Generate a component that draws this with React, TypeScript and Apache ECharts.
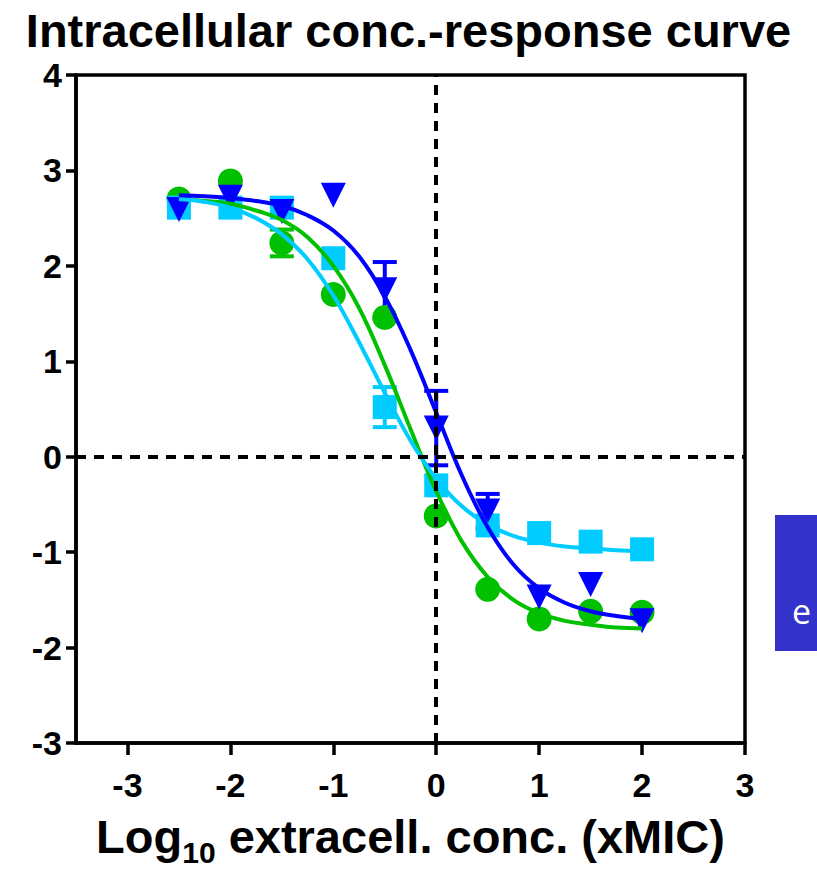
import React, { useEffect, useRef } from "react";
import * as echarts from "echarts";

const FONT = "'Liberation Sans', Arial, sans-serif";

const pointX = [-2.5, -2, -1.5, -1, -0.5, 0, 0.5, 1, 1.5, 2];
const greenVals = [2.7, 2.89, 2.24, 1.7, 1.46, -0.62, -1.39, -1.7, -1.62, -1.63];
const greenErr = [0, 0, 0.14, 0, 0, 0, 0, 0, 0, 0];
const cyanVals = [2.61, 2.61, 2.61, 2.08, 0.52, -0.3, -0.72, -0.8, -0.89, -0.97];
const cyanErr = [0, 0, 0, 0, 0.21, 0, 0, 0, 0, 0];
const blueVals = [2.59, 2.72, 2.57, 2.74, 1.75, 0.3, -0.57, -1.47, -1.34, -1.72];
const blueErr = [0, 0, 0, 0, 0.29, 0.39, 0.18, 0, 0, 0];

const curveX = [-2.5, -2.25, -2, -1.75, -1.5, -1.25, -1, -0.75, -0.5, -0.25, 0, 0.25, 0.5, 0.75, 1, 1.25, 1.5, 1.75, 2];
const greenCurve = [2.7, 2.68, 2.65, 2.58, 2.48, 2.3, 2.0, 1.56, 0.96, 0.29, -0.36, -0.89, -1.26, -1.5, -1.64, -1.72, -1.76, -1.79, -1.8];
const cyanCurve = [2.7, 2.67, 2.61, 2.5, 2.33, 2.07, 1.69, 1.2, 0.67, 0.17, -0.23, -0.52, -0.71, -0.83, -0.9, -0.94, -0.96, -0.98, -0.99];
const blueCurve = [2.74, 2.73, 2.71, 2.68, 2.63, 2.53, 2.37, 2.1, 1.68, 1.12, 0.46, -0.2, -0.74, -1.13, -1.38, -1.53, -1.62, -1.67, -1.7];

const xTicks = [-3, -2, -1, 0, 1, 2, 3];

const GREEN = "#00C000";
const CYAN = "#00CCFF";
const BLUE = "#0000FF";

function errSeries(vals: number[], errs: number[], color: string) {
  return {
    type: "custom",
    silent: true,
    data: pointX.map((x, i) => [x, vals[i], errs[i]]).filter((d) => d[2] > 0),
    renderItem: (params: any, api: any) => {
      const x = api.value(0);
      const y = api.value(1);
      const e = api.value(2);
      const top = api.coord([x, y + e]);
      const bot = api.coord([x, y - e]);
      const hw = 12;
      const st = { stroke: color, lineWidth: 4 };
      return {
        type: "group",
        children: [
          { type: "line", shape: { x1: top[0], y1: top[1], x2: bot[0], y2: bot[1] }, style: st },
          { type: "line", shape: { x1: top[0] - hw, y1: top[1], x2: top[0] + hw, y2: top[1] }, style: st },
          { type: "line", shape: { x1: bot[0] - hw, y1: bot[1], x2: bot[0] + hw, y2: bot[1] }, style: st },
        ],
      };
    },
  };
}

function curveSeries(vals: number[], color: string, extra: any = {}) {
  return {
    type: "line",
    data: curveX.map((x, i) => [x, vals[i]]),
    smooth: 0.4,
    showSymbol: false,
    symbol: "none",
    lineStyle: { color, width: 4 },
    silent: true,
    ...extra,
  };
}

function pointSeries(vals: number[], color: string, symbol: string, size: number, rotate = 0) {
  return {
    type: "scatter",
    data: pointX.map((x, i) => [x, vals[i]]),
    symbol,
    symbolSize: size,
    symbolRotate: rotate,
    itemStyle: { color, opacity: 1 },
    silent: true,
  };
}

export default function App() {
  const ref = useRef<HTMLDivElement>(null);
  useEffect(() => {
    if (!ref.current) return;
    const chart = echarts.init(ref.current, null, { renderer: "svg" });
    const option: any = {
      animation: false,
      backgroundColor: "#fff",
      title: {
        text: "Intracellular conc.-response curve",
        left: "center",
        top: 2,
        textStyle: { fontFamily: FONT, fontWeight: "bold", fontSize: 47, color: "#000" },
      },
      grid: {
        left: 76,
        top: 75,
        width: 669,
        height: 670,
        show: true,
        borderColor: "#000",
        borderWidth: 3.5,
        backgroundColor: "transparent",
      },
      xAxis: {
        type: "value",
        min: -3.5,
        max: 3,
        axisLine: { onZero: false, lineStyle: { color: "#000", width: 3.5 } },
        axisTick: { length: 12, customValues: xTicks, lineStyle: { color: "#000", width: 3.5 } },
        axisLabel: {
          customValues: xTicks,
          margin: 25,
          fontSize: 34,
          fontWeight: "bold",
          fontFamily: FONT,
          color: "#000",
        },
        splitLine: { show: false },
        name: "{a|Log}{b|10}{a| extracell. conc. (xMIC)}",
        nameLocation: "middle",
        nameGap: 70,
        nameTextStyle: {
          rich: {
            a: { fontSize: 47, fontWeight: "bold", fontFamily: FONT, color: "#000", lineHeight: 54, verticalAlign: "top" },
            b: { fontSize: 30, fontWeight: "bold", fontFamily: FONT, color: "#000", lineHeight: 20, verticalAlign: "bottom" },
          },
        },
      },
      yAxis: {
        type: "value",
        min: -3,
        max: 4,
        interval: 1,
        axisLine: { onZero: false, lineStyle: { color: "#000", width: 3.5 } },
        axisTick: { length: 10, lineStyle: { color: "#000", width: 3.5 } },
        axisLabel: { margin: 14, fontSize: 34, fontWeight: "bold", fontFamily: FONT, color: "#000" },
        splitLine: { show: false },
      },
      series: [
        curveSeries(greenCurve, GREEN, {
          markLine: {
            silent: true,
            symbol: "none",
            label: { show: false },
            lineStyle: { color: "#000", width: 4, type: [10, 8] },
            data: [{ xAxis: 0 }, { yAxis: 0 }],
          },
        }),
        errSeries(greenVals, greenErr, GREEN),
        pointSeries(greenVals, GREEN, "circle", 25),
        curveSeries(cyanCurve, CYAN),
        errSeries(cyanVals, cyanErr, CYAN),
        pointSeries(cyanVals, CYAN, "rect", 24),
        curveSeries(blueCurve, BLUE),
        errSeries(blueVals, blueErr, BLUE),
        pointSeries(blueVals, BLUE, "triangle", 25, 180),
      ],
      graphic: [
        { type: "rect", shape: { x: 775, y: 515, width: 42, height: 136 }, style: { fill: "#3333CC" } },
        {
          type: "text",
          x: 792,
          y: 594,
          style: { text: "e", fill: "#fff", fontSize: 34, fontFamily: "'Open Sans', sans-serif" },
        },
      ],
    };
    chart.setOption(option);
    return () => chart.dispose();
  }, []);
  return <div ref={ref} style={{ position: "fixed", left: 0, top: 0, width: 817, height: 872 }} />;
}
